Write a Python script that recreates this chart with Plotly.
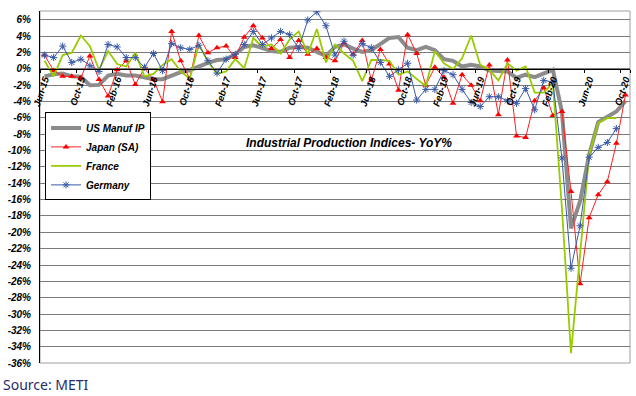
import plotly.graph_objects as go

months = ["Jun-15","Jul-15","Aug-15","Sep-15","Oct-15","Nov-15","Dec-15",
          "Jan-16","Feb-16","Mar-16","Apr-16","May-16","Jun-16","Jul-16","Aug-16","Sep-16","Oct-16","Nov-16","Dec-16",
          "Jan-17","Feb-17","Mar-17","Apr-17","May-17","Jun-17","Jul-17","Aug-17","Sep-17","Oct-17","Nov-17","Dec-17",
          "Jan-18","Feb-18","Mar-18","Apr-18","May-18","Jun-18","Jul-18","Aug-18","Sep-18","Oct-18","Nov-18","Dec-18",
          "Jan-19","Feb-19","Mar-19","Apr-19","May-19","Jun-19","Jul-19","Aug-19","Sep-19","Oct-19","Nov-19","Dec-19",
          "Jan-20","Feb-20","Mar-20","Apr-20","May-20","Jun-20","Jul-20","Aug-20","Sep-20","Oct-20"]

us_manuf_ip = [-0.9, -0.65, -0.55, -0.9, -0.95, -2.0, -1.95, -0.8, -0.6, -0.8,
               -0.8, -1.0, -1.25, -1.25, -0.85, -0.4, -0.15, 0.35, 0.75, 1.1,
               1.2, 1.8, 2.7, 2.9, 2.5, 2.2, 2.1, 2.6, 2.7, 2.6,
               2.1, 1.6, 2.7, 3.0, 2.5, 2.1, 2.3, 3.0, 3.8, 3.9,
               2.6, 2.3, 2.7, 2.3, 1.2, 1.0, 0.3, 0.5, 0.3, -0.2,
               -0.3, -0.3, -1.1, -0.7, -1.0, -0.6, -0.1, -5.2, -19.5, -16.2,
               -10.5, -6.5, -5.8, -5.2, -3.9]

japan_sa = [1.7, -0.2, -0.9, -0.9, -1.1, 1.6, -1.3, -3.3, -0.1, 1.0,
            -1.9, 0.1, -1.3, -4.0, 4.6, 1.0, -1.2, 4.1, 2.0, 2.6,
            2.8, 1.4, 3.9, 5.3, 3.8, 2.5, 3.6, 1.4, 3.5, 1.8,
            2.5, 1.4, 1.0, 3.2, 1.8, 3.5, -1.4, 2.4, 0.6, -2.6,
            4.2, 1.9, -2.0, 0.2, -1.0, -4.2, -0.7, -2.0, -3.9, 0.5,
            -5.6, 1.1, -8.2, -8.4, -3.9, -2.3, -5.7, -5.2, -15.0, -26.3,
            -18.2, -15.4, -13.8, -9.1, -3.2]

france = [1.0, -0.9, 1.7, 2.0, 4.1, 2.8, -0.1, 2.2, 0.6, 0.3,
          2.0, -0.9, -0.6, 0.5, 1.2, -0.3, -1.2, 3.0, 0.9, -0.6,
          -0.3, 1.2, 0.1, 3.8, 2.7, 3.0, 1.9, 3.6, 4.6, 1.8,
          4.9, 0.8, 3.0, 1.9, 1.0, -1.5, 1.1, 1.1, 1.0, -0.7,
          -0.3, -1.2, -2.1, 2.2, 0.7, 0.0, 1.3, 4.1, 0.5, -0.1,
          -1.4, 0.7, -0.2, 0.3, -2.9, -2.9, -1.7, -17.0, -34.8, -22.7,
          -10.5, -6.6, -6.0, -6.0]

germany = [1.7, 1.4, 2.8, 0.8, 1.2, 0.4, -0.3, 3.0, 2.7, 1.4,
           1.4, 0.2, 1.9, -0.2, 3.1, 2.6, 2.4, 2.9, 1.0, -0.5,
           1.2, 1.8, 3.0, 4.6, 3.0, 3.8, 4.6, 4.2, 2.5, 6.0,
           7.0, 5.3, 1.7, 3.4, 1.7, 3.1, 2.6, 0.8, -0.9, -0.1,
           0.7, -3.8, -2.5, -2.5, -0.2, -0.7, -2.5, -4.1, -4.6, -3.4,
           -3.4, -3.9, -4.2, -2.4, -5.0, -1.4, -1.6, -10.9, -24.4, -19.2,
           -10.8, -9.6, -9.0, -7.3]

x_ticks = months[::4]
y_ticks = list(range(-36, 7, 2))

FONT = "Liberation Sans, Arial, sans-serif"

fig = go.Figure()
fig.add_trace(go.Scatter(x=months[:len(us_manuf_ip)], y=us_manuf_ip, name="US Manuf IP",
                         mode="lines", line=dict(color="#8c8c8c", width=4)))
fig.add_trace(go.Scatter(x=months[:len(japan_sa)], y=japan_sa, name="Japan (SA)",
                         mode="lines+markers", line=dict(color="#ff2020", width=1),
                         marker=dict(symbol="triangle-up", size=6, color="#ff0000")))
fig.add_trace(go.Scatter(x=months[:len(france)], y=france, name="France",
                         mode="lines", line=dict(color="#99cc00", width=1.8)))
fig.add_trace(go.Scatter(x=months[:len(germany)], y=germany, name="Germany",
                         mode="lines+markers", line=dict(color="#3a5aa8", width=1),
                         marker=dict(symbol="asterisk-open", size=6,
                                     line=dict(color="#2d4fa0", width=1))))

ymin, ymax = -36, 7.1
fig.update_layout(
    template="none",
    width=636, height=396,
    margin=dict(l=40, r=6, t=11, b=33, pad=0, autoexpand=False),
    paper_bgcolor="white", plot_bgcolor="white",
    font=dict(family=FONT, color="black"),
    showlegend=True,
    legend=dict(x=0.0085, y=0.712, xanchor="left", yanchor="top",
                bgcolor="white", bordercolor="black", borderwidth=1,
                font=dict(size=10, family=FONT, weight="bold", style="italic"),
                itemwidth=30, tracegroupgap=0,
                entrywidthmode="pixels", entrywidth=135),
    xaxis=dict(type="category", range=[-0.5, len(months) - 0.5], automargin=False,
               tickmode="array", tickvals=x_ticks, ticktext=x_ticks,
               tickson="boundaries",
               tickangle=-72, ticks="outside", ticklen=3, tickcolor="black",
               showline=True, linecolor="black", linewidth=1,
               showgrid=False, zeroline=False,
               anchor="free", position=(0 - ymin) / (ymax - ymin),
               tickfont=dict(size=9.5, family=FONT, weight="bold", style="italic")),
    yaxis=dict(range=[ymin, ymax], tickmode="array", tickvals=y_ticks, automargin=False,
               ticktext=[f"{v}%" for v in y_ticks],
               showgrid=True, gridcolor="#7a7a7a", gridwidth=1,
               zeroline=False, showline=True, linecolor="black", linewidth=1,
               ticks="", ticklabelstandoff=6,
               tickfont=dict(size=10, family=FONT, weight="bold", style="italic")),
    shapes=[dict(type="rect", xref="paper", yref="paper", x0=0, x1=1, y0=0, y1=1,
                 line=dict(color="#a0a0a0", width=1), layer="below")],
    annotations=[
        dict(text="Industrial Production Indices- YoY%", xref="paper", yref="paper",
             x=0.524, y=0.625, xanchor="center", yanchor="middle", showarrow=False,
             font=dict(size=12, family=FONT, weight="bold", style="italic", color="black")),
        dict(text="Source: METI", xref="paper", yref="paper",
             x=-0.066, y=-0.06, xanchor="left", yanchor="middle", showarrow=False,
             font=dict(size=14, family="Noto Sans, Open Sans, sans-serif", color="#1f2d6b")),
    ],
)

fig.write_html("out.html", config={"displayModeBar": False},
               post_script="document.body.style.margin='0';document.body.style.padding='0';"
                           "document.documentElement.style.overflow='hidden';")
